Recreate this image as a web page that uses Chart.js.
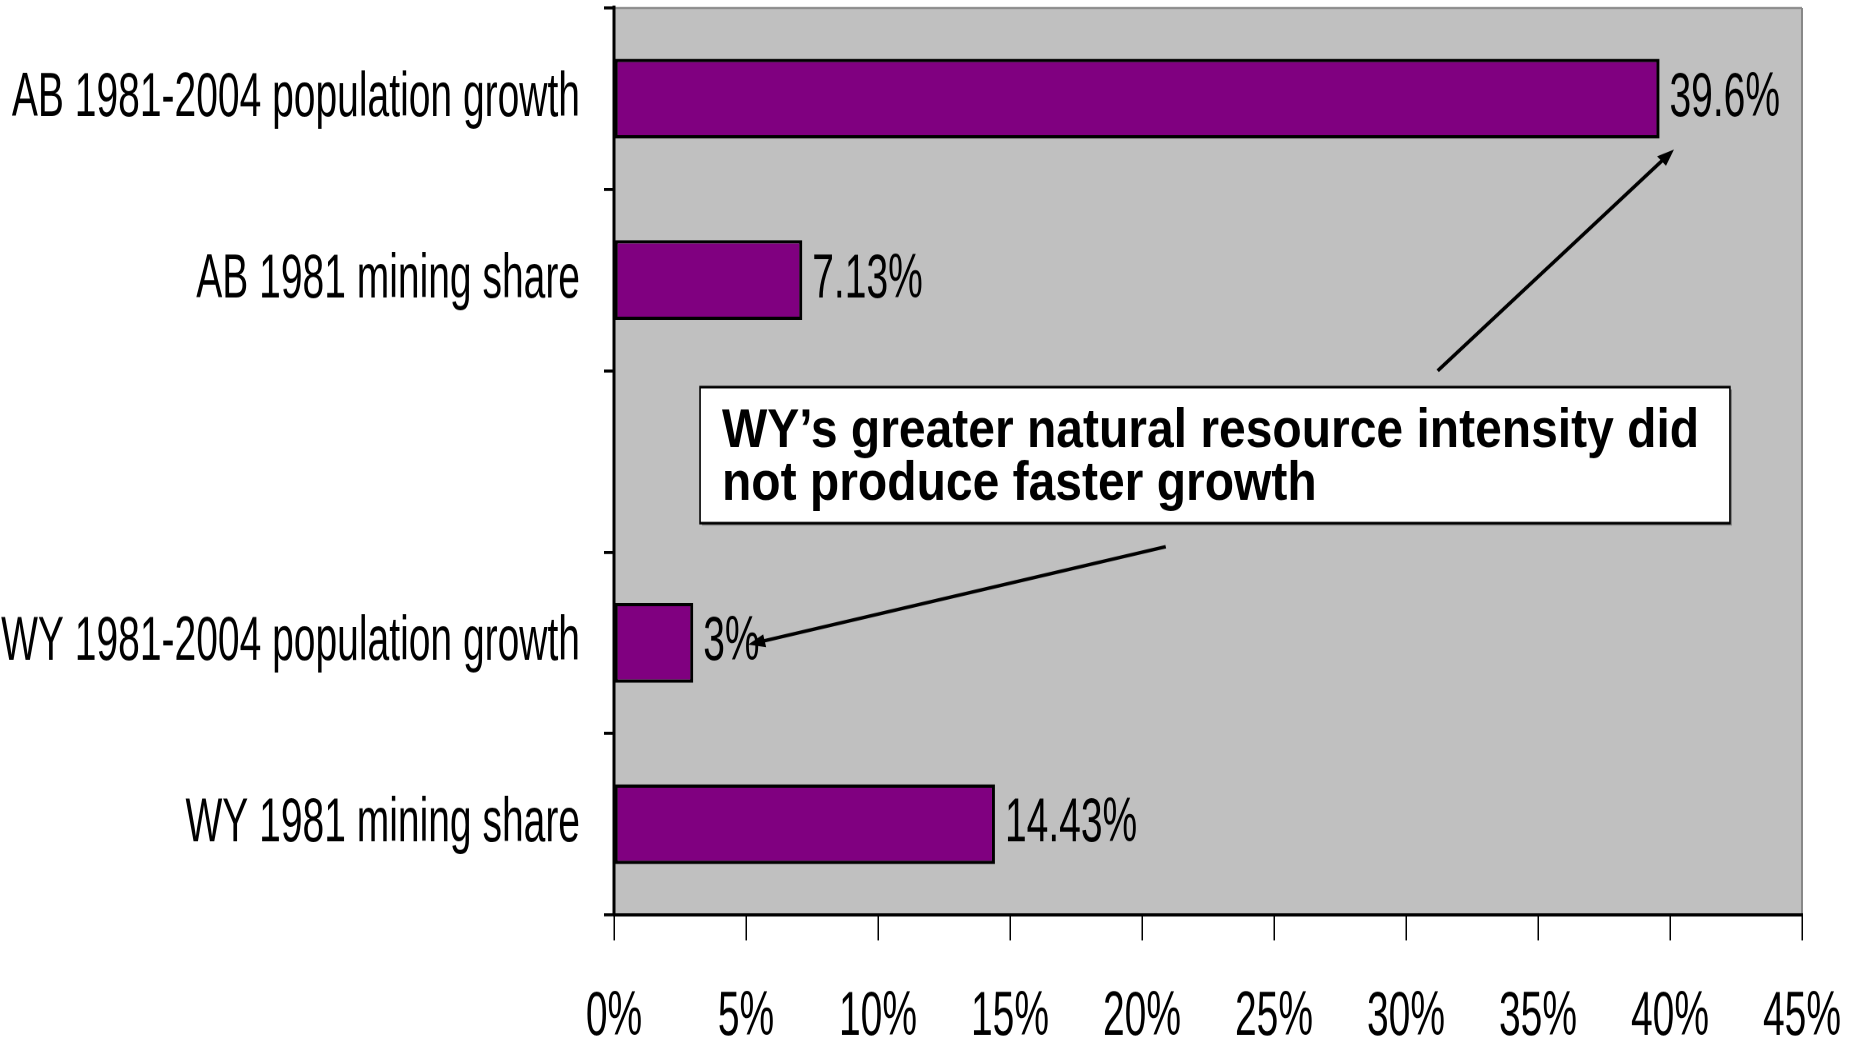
<!DOCTYPE html>
<html>
<head>
<meta charset="utf-8">
<script src="https://cdn.jsdelivr.net/npm/chart.js@4.4.0/dist/chart.umd.min.js"></script>
<style>
  html { margin: 0; padding: 0; background: #fff; overflow: hidden; }
  body { margin: 0; padding: 0; width: 1855px; height: 1038px; }
  /* the reference text is tall and condensed, so the whole chart is drawn squat and stretched */
  #wrap { width: 1855px; height: 649px; transform: scaleY(1.5994); transform-origin: 0 0; }
</style>
</head>
<body>
<div id="wrap"><canvas id="myChart"></canvas></div>
<script>
const categories = ['AB 1981-2004 population growth', 'AB 1981 mining share', '', 'WY 1981-2004 population growth', 'WY 1981 mining share'];
const values = [39.6, 7.13, null, 3, 14.43];
const valueLabels = ['39.6%', '7.13%', '', '3%', '14.43%'];
const xTickLabels = ['0%', '5%', '10%', '15%', '20%', '25%', '30%', '35%', '40%', '45%'];
const noteLines = ['WY\u2019s greater natural resource intensity did', 'not produce faster growth'];

const STRETCH = 1.5994;
const labelFont = "'Liberation Sans', Arial, sans-serif";

// arrow drawn in on-screen proportions so the head is not squashed
function arrow(ctx, x1, y1, x2, y2) {
    ctx.save();
    ctx.scale(1, 1 / STRETCH);
    y1 *= STRETCH;
    y2 *= STRETCH;
    const ang = Math.atan2(y2 - y1, x2 - x1);
    const head = 17, half = 6.5;
    const c = Math.cos(ang), s = Math.sin(ang);
    ctx.lineWidth = 3.5;
    ctx.beginPath();
    ctx.moveTo(x1, y1);
    ctx.lineTo(x2 - head * 0.8 * c, y2 - head * 0.8 * s);
    ctx.stroke();
    ctx.beginPath();
    ctx.moveTo(x2, y2);
    ctx.lineTo(x2 - head * c + half * s, y2 - head * s - half * c);
    ctx.lineTo(x2 - head * c - half * s, y2 - head * s + half * c);
    ctx.closePath();
    ctx.fill();
    ctx.restore();
}

const plotFrame = {
    id: 'plotFrame',
    beforeDraw(chart) {
        const ctx = chart.ctx, a = chart.chartArea;
        ctx.save();
        ctx.fillStyle = '#c0c0c0';
        ctx.fillRect(a.left, a.top, a.right - a.left, a.bottom - a.top);
        ctx.strokeStyle = '#888';
        ctx.lineWidth = 1.3;
        ctx.beginPath();
        ctx.moveTo(a.left, a.top);
        ctx.lineTo(a.right, a.top);
        ctx.stroke();
        ctx.lineWidth = 2;
        ctx.beginPath();
        ctx.moveTo(a.right, a.top);
        ctx.lineTo(a.right, a.bottom);
        ctx.stroke();
        ctx.restore();
    }
};

const barValues = {
    id: 'barValues',
    afterDatasetsDraw(chart) {
        const ctx = chart.ctx;
        const meta = chart.getDatasetMeta(0);
        ctx.save();
        ctx.fillStyle = '#000';
        ctx.font = '39px ' + labelFont;
        ctx.textAlign = 'left';
        ctx.textBaseline = 'middle';
        meta.data.forEach((bar, i) => {
            if (values[i] == null) return;
            ctx.fillText(valueLabels[i], bar.x + 10, bar.y);
        });
        ctx.restore();
    }
};

const note = {
    id: 'note',
    afterDraw(chart) {
        const ctx = chart.ctx;
        const x = chart.scales.x, y = chart.scales.y;
        const bx1 = x.getPixelForValue(3.26), bx2 = x.getPixelForValue(42.27);
        const by1 = y.getPixelForValue(1.59), by2 = y.getPixelForValue(2.34);
        ctx.save();
        ctx.fillStyle = '#808080';
        ctx.fillRect(bx1 + 2, by1 + 1.5, bx2 - bx1, by2 - by1);
        ctx.fillStyle = '#fff';
        ctx.fillRect(bx1, by1, bx2 - bx1, by2 - by1);
        ctx.strokeStyle = '#000';
        ctx.lineWidth = 1.6;
        ctx.strokeRect(bx1, by1, bx2 - bx1, by2 - by1);

        ctx.fillStyle = '#000';
        ctx.font = 'bold 48px ' + labelFont;
        ctx.textAlign = 'left';
        ctx.textBaseline = 'alphabetic';
        const tx = x.getPixelForValue(4.09);
        [1.92, 2.21].forEach((v, i) => {
            ctx.save();
            ctx.translate(tx, y.getPixelForValue(v));
            ctx.scale(1, 0.71);
            ctx.fillText(noteLines[i], 0, 0);
            ctx.restore();
        });

        ctx.strokeStyle = '#000';
        ctx.fillStyle = '#000';
        arrow(ctx, x.getPixelForValue(31.2), y.getPixelForValue(1.5), x.getPixelForValue(40.15), y.getPixelForValue(0.28));
        arrow(ctx, x.getPixelForValue(20.9), y.getPixelForValue(2.47), x.getPixelForValue(5.08), y.getPixelForValue(3.01));
        ctx.restore();
    }
};

const ctx = document.getElementById('myChart');
const myChart = new Chart(ctx, {
    type: 'bar',
    data: {
        labels: categories,
        datasets: [{
            data: values,
            backgroundColor: '#800080',
            borderColor: '#000',
            borderWidth: { top: 2.1, bottom: 2.1, left: 3, right: 3 },
            borderSkipped: false,
            categoryPercentage: 1,
            barPercentage: 0.44
        }]
    },
    options: {
        indexAxis: 'y',
        responsive: true,
        maintainAspectRatio: false,
        animation: false,
        devicePixelRatio: 2,
        layout: { padding: { left: 0, top: 5, right: 53, bottom: 0 } },
        plugins: { legend: { display: false }, tooltip: { enabled: false } },
        scales: {
            x: {
                min: 0,
                max: 45,
                ticks: {
                    stepSize: 5,
                    maxRotation: 0,
                    color: '#000',
                    padding: 25,
                    font: { family: labelFont, size: 39 },
                    callback: (v, i) => xTickLabels[i]
                },
                grid: { drawOnChartArea: false, tickLength: 16, color: '#000', lineWidth: 1.5 },
                border: { color: '#000', width: 2 },
                afterFit(s) { s.height = 77; s.paddingLeft = 0; s.paddingRight = 0; }
            },
            y: {
                ticks: { color: '#000', padding: 24, font: { family: labelFont, size: 39 } },
                grid: { drawOnChartArea: false, offset: true, tickLength: 10, color: '#000', lineWidth: 1.9 },
                border: { color: '#000', width: 3 },
                afterFit(s) { s.width = 614; s.paddingTop = 0; s.paddingBottom = 0; }
            }
        }
    },
    plugins: [plotFrame, barValues, note]
});
</script>
</body>
</html>
